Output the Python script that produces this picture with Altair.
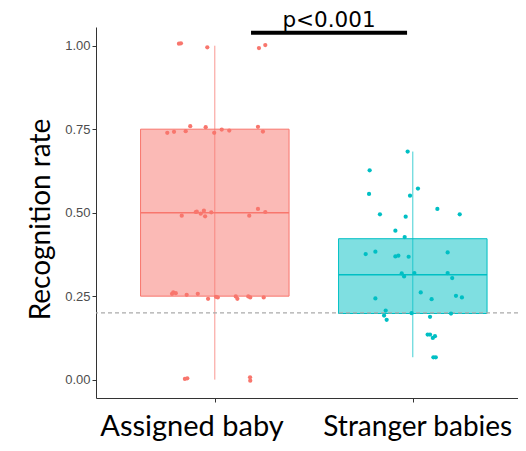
import altair as alt
import pandas as pd

groups = ["Assigned baby", "Stranger babies"]
group_pos = [1, 2]
colors = ["#F8766D", "#00BFC4"]

# box-plot statistics
q1 = [0.25, 0.198]
median = [0.50, 0.314]
q3 = [0.75, 0.422]
lower = [0.0, 0.067]
upper = [1.0, 0.683]

# jittered individual points (value, horizontal jitter in category units)
assigned_vals = [1.006, 1.007, 0.995, 0.993, 1.002,
                 0.739, 0.742, 0.744, 0.759, 0.756, 0.739, 0.749, 0.746, 0.757, 0.743,
                 0.491, 0.502, 0.503, 0.497, 0.506, 0.489, 0.501, 0.491, 0.511, 0.502,
                 0.257, 0.261, 0.259, 0.254, 0.257, 0.242, 0.248, 0.246, 0.249, 0.242, 0.249, 0.246, 0.246,
                 0.002, 0.004, 0.007, -0.003]
assigned_jit = [-0.181, -0.171, -0.038, 0.223, 0.255,
                -0.240, -0.206, -0.147, -0.124, -0.046, -0.003, 0.035, 0.073, 0.218, 0.243,
                -0.167, -0.096, -0.091, -0.071, -0.055, -0.049, -0.018, 0.174, 0.218, 0.255,
                -0.216, -0.210, -0.197, -0.142, -0.086, -0.034, 0.006, 0.015, 0.106, 0.114, 0.169, 0.179, 0.247,
                -0.151, -0.139, 0.178, 0.179]
stranger_vals = [0.683, 0.627, 0.556, 0.572, 0.551, 0.511, 0.495, 0.495, 0.488, 0.446,
                 0.427, 0.376, 0.383, 0.369, 0.371, 0.368, 0.381, 0.318, 0.309, 0.319,
                 0.319, 0.304, 0.261, 0.243, 0.241, 0.251, 0.246, 0.207, 0.192, 0.179,
                 0.199, 0.188, 0.198, 0.135, 0.135, 0.125, 0.130, 0.067, 0.067]
stranger_jit = [-0.026, -0.218, -0.221, 0.026, -0.014, 0.124, -0.166, 0.237, -0.036, -0.088,
                -0.041, -0.238, -0.189, -0.088, -0.073, -0.021, 0.176, -0.056, -0.044, 0.008,
                0.176, 0.199, 0.040, -0.189, 0.095, 0.218, 0.248, -0.137, -0.145, -0.132,
                -0.006, 0.087, 0.193, 0.075, 0.087, 0.101, 0.112, 0.104, 0.116]

chance_level = 0.2
sig_label = "p<0.001"
sig_from = [1.183]
sig_to = [1.971]
sig_y = [1.039]

BOX_HALF = 0.375

box_df = pd.DataFrame({"group": groups, "pos": group_pos, "q1": q1, "median": median,
                       "q3": q3, "lower": lower, "upper": upper})
pts_df = pd.DataFrame({
    "group": [groups[0]] * len(assigned_vals) + [groups[1]] * len(stranger_vals),
    "pos": [group_pos[0]] * len(assigned_vals) + [group_pos[1]] * len(stranger_vals),
    "value": assigned_vals + stranger_vals,
    "jit": assigned_jit + stranger_jit,
})
sig_df = pd.DataFrame({"x1": sig_from, "x2": sig_to, "y": sig_y, "label": [sig_label]})
chance_df = pd.DataFrame({"y": [chance_level]})

xscale = alt.Scale(domain=[0.4, 2.5313], nice=False, zero=False)
yscale = alt.Scale(domain=[-0.055, 1.056], nice=False, zero=False)
gscale = alt.Scale(domain=groups, range=colors)

label_expr = "datum.value == 1 ? '%s' : '%s'" % (groups[0], groups[1])

base_box = alt.Chart(box_df).transform_calculate(
    lo=alt.datum.pos - BOX_HALF, hi=alt.datum.pos + BOX_HALF
)

whisker = base_box.mark_rule(strokeWidth=1, opacity=0.75).encode(
    x=alt.X("pos:Q", scale=xscale,
            axis=alt.Axis(values=group_pos, labelExpr=label_expr, title=None, grid=False,
                          domainColor="#333333", tickColor="#333333", tickSize=4,
                          labelFont="Lato",
                          labelFontSize={"condition": {"test": "datum.value == 1", "value": 29},
                                         "value": 28},
                          labelColor="black",
                          labelAlign="left", labelBaseline="alphabetic", labelPadding=33,
                          labelOffset={"condition": {"test": "datum.value == 1", "value": -115},
                                       "value": -90},
                          labelLimit=0, labelOverlap=False, labelFlush=False, labelBound=False)),
    y=alt.Y("lower:Q", scale=yscale,
            axis=alt.Axis(values=[0, 0.25, 0.5, 0.75, 1.0], format=".2f", grid=False,
                          title="Recognition rate", titleFont="Lato", titleFontSize=28,
                          titleFontWeight="normal", titleColor="black", titlePadding=9,
                          titleY=192,
                          domainColor="#333333", tickColor="#333333", tickSize=4,
                          labelFont="Liberation Sans", labelFontSize=13, labelColor="#4d4d4d",
                          labelPadding=2)),
    y2="upper:Q",
    stroke=alt.Stroke("group:N", scale=gscale, legend=None),
)

box = base_box.mark_rect(strokeWidth=1, fillOpacity=0.5).encode(
    x=alt.X("lo:Q", scale=xscale), x2="hi:Q",
    y=alt.Y("q1:Q", scale=yscale), y2="q3:Q",
    fill=alt.Fill("group:N", scale=gscale, legend=None),
    stroke=alt.Stroke("group:N", scale=gscale, legend=None),
)

med = base_box.mark_rule(strokeWidth=1.5).encode(
    x=alt.X("lo:Q", scale=xscale), x2="hi:Q",
    y=alt.Y("median:Q", scale=yscale),
    stroke=alt.Stroke("group:N", scale=gscale, legend=None),
)

chance = alt.Chart(chance_df).mark_rule(color="#aaaaaa", strokeDash=[4, 3], strokeWidth=1.3).encode(
    y=alt.Y("y:Q", scale=yscale)
)

points = alt.Chart(pts_df).transform_calculate(
    xj=alt.datum.pos + alt.datum.jit
).mark_circle(size=18, opacity=1).encode(
    x=alt.X("xj:Q", scale=xscale),
    y=alt.Y("value:Q", scale=yscale),
    fill=alt.Fill("group:N", scale=gscale, legend=None),
)

sig_bar = alt.Chart(sig_df).mark_rule(color="black", strokeWidth=4).encode(
    x=alt.X("x1:Q", scale=xscale), x2="x2:Q", y=alt.Y("y:Q", scale=yscale)
)
sig_text = alt.Chart(sig_df).transform_calculate(
    xm=(alt.datum.x1 + alt.datum.x2) / 2
).mark_text(font="DejaVu Sans", fontSize=21.5, color="black", baseline="alphabetic", dy=-6).encode(
    x=alt.X("xm:Q", scale=xscale), y=alt.Y("y:Q", scale=yscale), text="label:N"
)

chart = alt.layer(whisker, box, med, chance, points, sig_bar, sig_text).properties(
    width=422, height=371, autosize="none",
    padding={"left": 88, "top": 19, "right": 0, "bottom": 45},
    background="white",
).configure_view(stroke=None)

chart.save("out.html", embed_options={"renderer": "svg", "actions": False})
